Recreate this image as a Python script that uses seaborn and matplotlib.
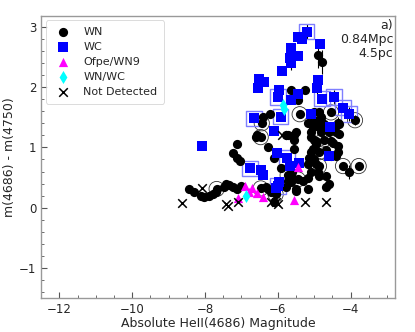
import numpy as np
import pandas as pd
import matplotlib
matplotlib.use("Agg")
import matplotlib.pyplot as plt
import seaborn as sns
from matplotlib.ticker import MultipleLocator

# ---- data ----
wn_x = [-4.90, -4.79, -5.26, -5.45, -5.65, -6.22, -6.44, -6.58, -6.61, -6.47,
        -5.78, -5.56, -5.40, -5.01, -4.87, -4.82, -4.54, -3.88, -4.35, -4.32,
        -4.82, -5.09, -5.18, -4.96, -4.87, -5.04, -5.51, -5.73, -4.74, -4.60,
        -4.41, -5.01, -4.74, -4.54, -4.96, -4.35, -5.56, -5.09, -4.87, -4.41,
        -5.15, -5.01, -5.18, -4.96, -4.87, -4.21, -3.78, -4.05, -5.09, -4.90,
        -5.18, -4.87, -4.68, -5.45, -5.65, -5.65, -5.51, -5.18, -4.68, -7.13,
        -7.24, -7.13, -7.05, -6.11, -5.92, -5.73, -5.73, -5.78, -5.51, -6.28,
        -6.06, -6.47, -7.02, -7.24, -7.43, -7.68, -7.79, -8.04, -8.45, -8.31,
        -8.12, -7.90, -7.71, -7.49, -7.35, -7.13, -6.33, -6.20, -6.11, -4.49,
        -4.96, -5.04, -4.35, -4.54, -4.82, -5.09, -4.76, -6.28, -6.42, -4.68,
        -5.56, -4.46, -4.32, -5.10, -5.30, -4.60, -5.60]
wn_y = [2.54, 2.42, 1.96, 1.79, 1.96, 1.55, 1.40, 1.20, 1.18, 1.17,
        1.21, 1.21, 1.55, 1.58, 1.58, 1.50, 1.58, 1.45, 1.40, 1.38,
        1.43, 1.41, 1.41, 1.43, 1.33, 1.33, 1.25, 1.21, 1.38, 1.25,
        1.25, 1.13, 1.13, 1.10, 1.05, 1.02, 0.97, 0.93, 0.92, 0.85,
        0.83, 0.80, 0.72, 0.72, 0.69, 0.69, 0.69, 0.59, 0.60, 0.60,
        0.50, 0.52, 0.52, 0.47, 0.55, 0.42, 0.31, 0.31, 0.34, 1.05,
        0.90, 0.82, 0.77, 0.83, 0.65, 0.54, 0.44, 0.34, 0.27, 0.31,
        0.22, 0.32, 0.36, 0.34, 0.39, 0.31, 0.22, 0.17, 0.31, 0.26,
        0.19, 0.19, 0.26, 0.34, 0.37, 0.31, 0.34, 0.26, 0.09, 1.08,
        1.10, 0.97, 0.92, 0.85, 1.26, 1.26, 1.35, 1.00, 1.50, 0.95,
        1.12, 1.35, 1.22, 1.18, 0.45, 0.40, 0.60]
wn_ring = [0, 0, 0, 0, 0, 0, 1, 0, 0, 1,
           0, 0, 1, 0, 0, 0, 1, 1, 0, 0,
           0, 0, 0, 0, 0, 0, 0, 0, 0, 0,
           0, 0, 1, 0, 0, 0, 0, 0, 1, 0,
           0, 0, 0, 0, 1, 1, 1, 0, 0, 0,
           0, 0, 0, 1, 0, 0, 0, 0, 0, 0,
           0, 0, 0, 0, 0, 1, 0, 0, 0, 0,
           1, 1, 0, 0, 0, 1, 0, 0, 0, 0,
           0, 0, 0, 0, 0, 0, 0, 0, 0, 0,
           0, 0, 0, 0, 0, 0, 0, 0, 0, 0,
           0, 0, 0, 0, 0, 0, 0]

wc_x = [-5.21, -5.45, -5.34, -4.85, -5.65, -5.45, -5.67, -5.65, -5.89, -6.53,
        -6.39, -6.55, -4.90, -4.93, -5.98, -5.45, -6.00, -5.65, -4.79, -4.46,
        -4.21, -4.05, -6.66, -5.92, -5.09, -4.57, -6.11, -8.07, -6.03, -5.75,
        -5.42, -5.67, -6.77, -6.47, -6.42, -4.60, -5.98, -6.00, -6.06]
wc_y = [2.92, 2.83, 2.79, 2.72, 2.65, 2.52, 2.48, 2.40, 2.26, 2.14,
        2.09, 1.99, 2.11, 1.98, 1.96, 1.89, 1.84, 1.79, 1.81, 1.84,
        1.66, 1.55, 1.48, 1.51, 1.55, 1.33, 1.28, 1.03, 0.90, 0.83,
        0.74, 0.69, 0.65, 0.62, 0.54, 0.85, 0.42, 0.36, 0.32]
wc_box = [1, 0, 0, 0, 0, 0, 0, 0, 0, 0,
          0, 0, 0, 0, 0, 0, 1, 0, 1, 1,
          1, 1, 1, 1, 0, 0, 0, 0, 0, 1,
          0, 0, 1, 0, 0, 0, 0, 1, 0]

of_x = [-5.45, -6.90, -6.72, -6.58, -6.42, -7.08, -5.56, -6.80]
of_y = [0.67, 0.36, 0.33, 0.24, 0.17, 0.16, 0.12, 0.26]

wnwc_x = [-5.87, -5.82, -6.86]
wnwc_y = [1.70, 1.63, 0.20]

nd_x = [-8.64, -8.07, -7.43, -7.38, -7.10, -6.06, -6.00, -5.26, -4.68, -5.89, -6.20]
nd_y = [0.07, 0.32, 0.06, 0.02, 0.09, 0.09, 0.06, 0.09, 0.09, 1.21, 0.10]

# error bars (x, y, yerr)
err_x = [-5.21, -4.90, -4.79, -4.46, -4.05, -4.05, -5.54, -5.65, -4.93, -4.35, -3.88]
err_y = [2.92, 2.54, 2.42, 1.84, 1.55, 0.59, 1.21, 2.40, 1.98, 1.40, 1.45]
err_e = [0.12, 0.22, 0.20, 0.12, 0.12, 0.12, 0.10, 0.12, 0.10, 0.10, 0.08]

# ---- plot ----
sns.set_style("ticks")
plt.rcParams['font.family'] = ['DejaVu Sans']
fig = plt.figure(figsize=(4.15, 3.32), dpi=100)
ax = fig.add_axes([0.099, 0.102, 0.853, 0.850])

ax.errorbar(err_x, err_y, yerr=err_e, fmt='none', ecolor='k', elinewidth=0.8, zorder=1)

wn = pd.DataFrame({'x': wn_x, 'y': wn_y, 'ring': wn_ring})
wc = pd.DataFrame({'x': wc_x, 'y': wc_y, 'box': wc_box})

r = wn[wn.ring == 1]
sns.scatterplot(x=r.x, y=r.y, ax=ax, marker='o', s=120, facecolor='none',
                edgecolor='#333333', linewidth=0.6, zorder=2, legend=False)
b = wc[wc.box == 1]
sns.scatterplot(x=b.x, y=b.y, ax=ax, marker='s', s=125, facecolor='none',
                edgecolor='#7f7fff', linewidth=1.0, zorder=2, legend=False)

sns.scatterplot(data=wn, x='x', y='y', ax=ax, marker='o', s=44, color='k',
                edgecolor='k', linewidth=0, label='WN', zorder=3)
sns.scatterplot(data=wc, x='x', y='y', ax=ax, marker='s', s=42, color='#0000ff',
                edgecolor='#0000ff', linewidth=0, label='WC', zorder=3)
sns.scatterplot(x=of_x, y=of_y, ax=ax, marker='^', s=44, color='#ff00ff',
                edgecolor='#ff00ff', linewidth=0, label='Ofpe/WN9', zorder=4)
sns.scatterplot(x=wnwc_x, y=wnwc_y, ax=ax, marker='d', s=44, color='#00ffff',
                edgecolor='#00ffff', linewidth=0, label='WN/WC', zorder=4)
sns.scatterplot(x=nd_x, y=nd_y, ax=ax, marker='x', s=38, color='k',
                linewidth=1.1, label='Not Detected', zorder=4)

ax.set_xlim(-12.5, -2.78)
ax.set_ylim(-1.5, 3.18)
ax.xaxis.set_major_locator(MultipleLocator(2))
ax.xaxis.set_minor_locator(MultipleLocator(0.5))
ax.yaxis.set_major_locator(MultipleLocator(1))
ax.yaxis.set_minor_locator(MultipleLocator(0.2))
ax.tick_params(which='both', direction='in', labelsize=8.5, color='#555555')
ax.tick_params(which='major', length=4)
ax.tick_params(which='minor', length=2)
for s in ax.spines.values():
    s.set_color('#999999')
    s.set_linewidth(1.0)

ax.set_xlabel('Absolute HeII(4686) Magnitude', fontsize=9, labelpad=1)
ax.set_ylabel('m(4686) - m(4750)', fontsize=9, labelpad=2)

ax.text(0.995, 0.99, 'a)\n0.84Mpc\n4.5pc', transform=ax.transAxes, ha='right', va='top',
        fontsize=9, linespacing=1.1)

leg = ax.legend(loc='upper left', fontsize=8, frameon=True, borderpad=0.6,
                handletextpad=0.8, labelspacing=0.45, borderaxespad=0.4)
leg.get_frame().set_linewidth(0.6)

fig.savefig('out.png', dpi=100)
